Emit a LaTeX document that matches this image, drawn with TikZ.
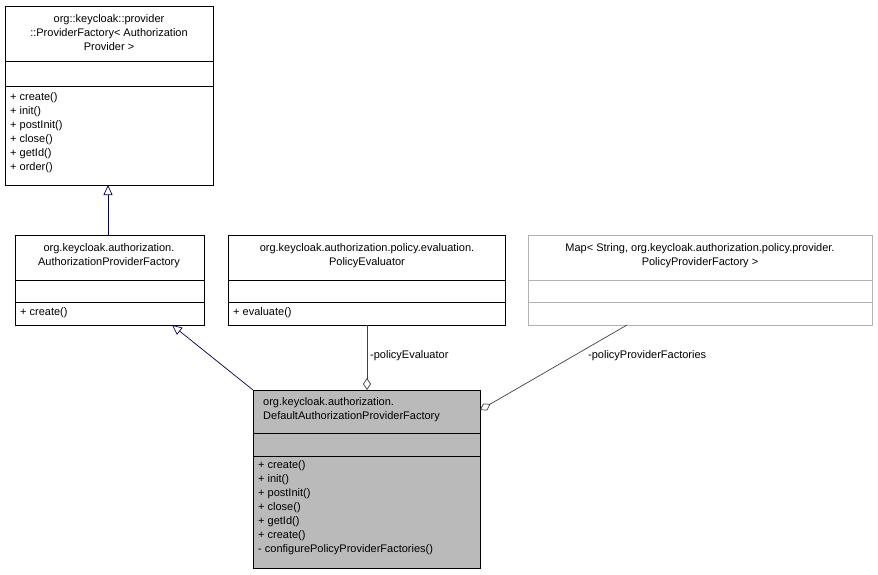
\documentclass[tikz,border=0pt]{standalone}
\usepackage{fontspec}
\setmainfont{Liberation Sans}
\usetikzlibrary{arrows.meta}
\begin{document}
\begin{tikzpicture}[x=1pt,y=-1pt,
  txt/.style={font=\fontsize{11}{14}\selectfont,inner sep=0pt},
  box/.style={draw=black,line width=0.7pt},
  gbox/.style={draw=black!30,line width=0.7pt},
  inh/.style={draw=black!50!blue!60!black,line width=0.7pt,-{Triangle[open,length=10pt,width=9pt]}},
  agg/.style={draw=black!75,line width=0.7pt,-{Diamond[open,length=12pt,width=8pt]}}]
\useasboundingbox (0,0) rectangle (878,575);
% box 1
\draw[box] (5,6) rectangle (213,185);
\draw[box] (5,61) -- (213,61) (5,86) -- (213,86);
\node[txt,align=center] (pf) at (109,33) {org::keycloak::provider\\::ProviderFactory\textless{} Authorization\\Provider \textgreater};
\node[txt,align=left,anchor=north west] (pfm) at (10,92) {+ create()\\+ init()\\+ postInit()\\+ close()\\+ getId()\\+ order()};
\coordinate (pfb) at (108,185);
% box 2
\draw[box] (15,235) rectangle (204,325);
\draw[box] (15,280) -- (204,280) (15,302) -- (204,302);
\node[txt,align=center] (apf) at (109,256) {org.keycloak.authorization.\\AuthorizationProviderFactory};
\node[txt,anchor=west] (apfm) at (20,313) {+ create()};
% box 3
\draw[box] (228,235) rectangle (505,325);
\draw[box] (228,280) -- (505,280) (228,302) -- (505,302);
\node[txt,align=center] (pe) at (367,256) {org.keycloak.authorization.policy.evaluation.\\PolicyEvaluator};
\node[txt,anchor=west] (pem) at (233,313) {+ evaluate()};
% box 4
\draw[gbox] (528,235) rectangle (872,325);
\draw[gbox] (528,280) -- (872,280) (528,302) -- (872,302);
\node[txt,align=center] (mp) at (700,256) {Map\textless{} String, org.keycloak.authorization.policy.provider.\\PolicyProviderFactory \textgreater};
% box 5
\draw[box,fill=black!27] (253,390) rectangle (480,568);
\draw[box] (253,433) -- (480,433) (253,456) -- (480,456);
\node[txt,align=left,anchor=west] (dp) at (263,410) {org.keycloak.authorization.\\DefaultAuthorizationProviderFactory};
\node[txt,align=left,anchor=north west] (dpm) at (258,460) {+ create()\\+ init()\\+ postInit()\\+ close()\\+ getId()\\+ create()\\- configurePolicyProviderFactories()};
% edges
\draw[inh] (108,235) -- (pfb);
\draw[inh] (253,390) -- (172,325);
\draw[agg] (367,325) -- (367,390);
\node[txt,anchor=west] (l1) at (370,356) {-policyEvaluator};
\draw[agg] (627,325) -- (480,410);
\node[txt,anchor=west] (l2) at (588,356) {-policyProviderFactories};
\end{tikzpicture}
\end{document}
